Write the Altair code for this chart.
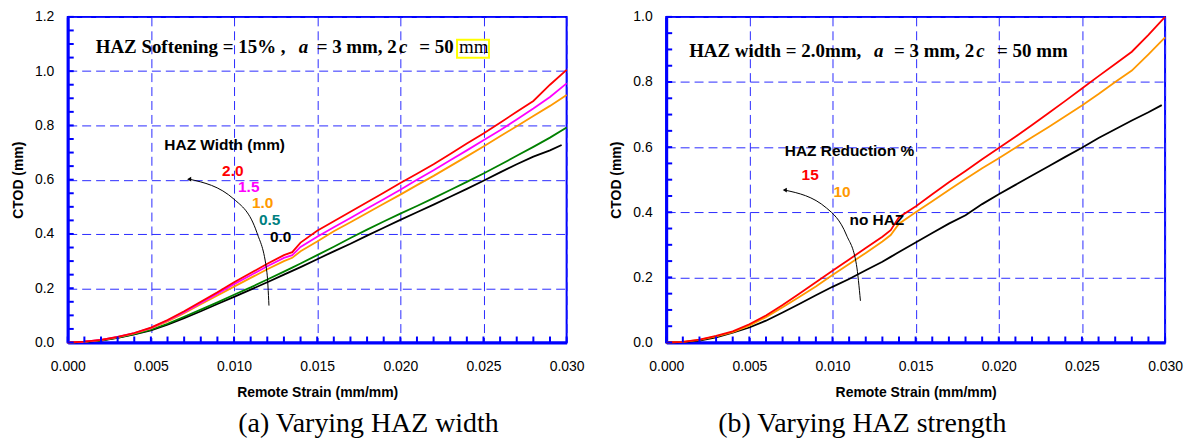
import altair as alt
import pandas as pd

# ---------------- data ----------------
X_GRID = [0.000, 0.001, 0.002, 0.003, 0.004, 0.005, 0.006, 0.007, 0.008, 0.009,
          0.010, 0.011, 0.012, 0.013, 0.0135, 0.014, 0.015, 0.016, 0.017, 0.018,
          0.019, 0.020, 0.021, 0.022, 0.023, 0.024, 0.025, 0.026, 0.027, 0.028,
          0.029, 0.030]
X_GRID_BLACK_A = X_GRID[:-1] + [0.0297]
X_GRID_BLACK_B = X_GRID[:-1] + [0.0298]

# (a) varying HAZ width
A_RED = [0, .003, .010, .021, .035, .055, .083, .115, .150, .185, .222, .256, .290, .322,
         .333, .368, .412, .447, .482, .517, .552, .588, .622, .657, .695, .733, .770,
         .810, .850, .890, .950, 1.005]
A_MAGENTA = [0, .003, .010, .021, .035, .054, .081, .112, .146, .180, .215, .248, .281, .312,
             .322, .352, .390, .425, .459, .494, .528, .563, .600, .635, .672, .708, .745,
             .782, .822, .862, .905, .955]
A_ORANGE = [0, .003, .009, .020, .034, .052, .078, .108, .141, .173, .206, .238, .270, .300,
            .312, .336, .372, .410, .443, .477, .511, .545, .580, .614, .650, .686, .722,
            .760, .797, .835, .872, .912]
A_GREEN = [0, .002, .008, .018, .031, .047, .069, .095, .121, .148, .176, .203, .232, .261,
           .276, .291, .322, .353, .385, .416, .446, .475, .503, .532, .562, .592, .623,
           .655, .688, .721, .755, .792]
A_BLACK = [0, .002, .007, .017, .030, .045, .066, .090, .115, .142, .168, .195, .222, .250,
           .264, .278, .307, .336, .364, .394, .423, .452, .480, .508, .537, .566, .596,
           .627, .657, .685, .708, .728]

# (b) varying HAZ strength
B_RED = [0, .002, .009, .020, .034, .056, .083, .115, .150, .185, .220, .255, .290, .325,
         .345, .385, .418, .455, .492, .527, .563, .597, .632, .668, .705, .742, .780,
         .818, .855, .893, .945, 1.000]
B_ORANGE = [0, .002, .008, .019, .032, .052, .078, .108, .140, .172, .207, .241, .275, .310,
            .330, .365, .400, .434, .468, .502, .535, .566, .598, .630, .662, .695, .728,
            .763, .800, .835, .885, .937]
B_BLACK = [0, .001, .006, .016, .030, .046, .067, .092, .118, .145, .171, .195, .222, .248,
           .263, .278, .307, .336, .365, .391, .425, .455, .484, .513, .541, .570, .598,
           .628, .655, .682, .707, .729]

A_COLORS = ["#000000", "#008000", "#ff9900", "#ff00ff", "#ff0000"]   # 0.0, 0.5, 1.0, 1.5, 2.0
B_COLORS = ["#000000", "#ff9900", "#ff0000"]                         # no HAZ, 10, 15

X_MAJOR = [0.000, 0.005, 0.010, 0.015, 0.020, 0.025, 0.030]
X_MINOR = [round(0.001 * i, 3) for i in range(31)]
A_Y_MAJOR = [0.0, 0.2, 0.4, 0.6, 0.8, 1.0, 1.2]
A_Y_MINOR = [round(0.05 * i, 2) for i in range(25)]
B_Y_MAJOR = [0.0, 0.2, 0.4, 0.6, 0.8, 1.0]
B_Y_MINOR = [round(0.05 * i, 2) for i in range(21)]

# annotation labels (x, y in data units)
A_LABELS = pd.DataFrame({
    "x": [0.00581, 0.00928, 0.01024, 0.01108, 0.01150, 0.01216],
    "y": [0.708, 0.613, 0.554, 0.495, 0.433, 0.371],
    "t": ["HAZ Width (mm)", "2.0", "1.5", "1.0", "0.5", "0.0"],
    "c": ["#000000", "#ff0000", "#ff00ff", "#ff9900", "#008080", "#000000"],
})
B_LABELS = pd.DataFrame({
    "x": [0.00713, 0.00814, 0.01006, 0.01102],
    "y": [0.572, 0.499, 0.447, 0.361],
    "t": ["HAZ Reduction %", "15", "10", "no HAZ"],
    "c": ["#000000", "#ff0000", "#ff9900", "#000000"],
})
A_ARC_X = [0.00730, 0.01000, 0.01138, 0.01198, 0.01210]
A_ARC_Y = [0.602, 0.528, 0.404, 0.257, 0.136]
B_ARC_X = [0.00713, 0.00964, 0.01084, 0.01144, 0.01168]
B_ARC_Y = [0.468, 0.413, 0.330, 0.239, 0.128]

# title pieces: (x, text, style)
A_TITLE_Y = 1.068
A_TITLE = [(0.00168, "HAZ Softening = 15% ,", "b"), (0.01389, "a", "bi"),
           (0.01497, "= 3 mm, 2", "b"), (0.01992, "c", "bi"),
           (0.02114, "= 50", "b"), (0.02353, "mm", "n")]
A_BOX = (0.02341, 0.02533, 1.0495, 1.1156)
B_TITLE_Y = 0.878
B_TITLE = [(0.00138, "HAZ width = 2.0mm,", "b"), (0.01250, "a", "bi"),
           (0.01370, "= 3 mm, 2", "b"), (0.01865, "c", "bi"),
           (0.01990, "= 50 mm", "b")]

W, H = 501, 327
TICK_LEN = 6
BLUE = "#0000ff"
SANS = "Liberation Sans"
SERIF = "Liberation Serif"


def panel(series, ymax, ymajor, yminor, labels, arc_x, arc_y,
          title_y, title, caption, caption_x, box=None):
    X = alt.X("x:Q", scale=alt.Scale(domain=[0, 0.03], nice=False, zero=False),
              axis=alt.Axis(values=X_MAJOR, format=".3f", title="Remote Strain (mm/mm)",
                            grid=True, gridColor="#2a2aff", gridDash=[9, 5], gridWidth=1,
                            domainColor=BLUE, domainWidth=3, ticks=False, tickSize=0,
                            labelFont=SANS, labelFontSize=14, labelColor="black",
                            labelPadding=17, labelFlush=False, labelOverlap=False,
                            titleFont=SANS, titleFontSize=14, titleFontWeight="bold",
                            titleColor="black", titlePadding=12))
    Y = alt.Y("y:Q", scale=alt.Scale(domain=[0, ymax], nice=False, zero=True),
              axis=alt.Axis(values=ymajor, format=".1f", title="CTOD (mm)",
                            grid=True, gridColor="#2a2aff", gridDash=[9, 5], gridWidth=1,
                            domainColor=BLUE, domainWidth=3, ticks=False, tickSize=0,
                            labelFont=SANS, labelFontSize=14, labelColor="black",
                            labelPadding=14, labelFlush=False, labelOverlap=False,
                            titleFont=SANS, titleFontSize=14, titleFontWeight="bold",
                            titleColor="black", titlePadding=9))

    layers = []
    for xs, ys, col in series:
        sdf = pd.DataFrame({"x": xs, "y": ys})
        layers.append(alt.Chart(sdf).mark_line(strokeWidth=1.8, color=col).encode(x=X, y=Y))

    # inward minor ticks along the bottom and left axes
    xt_df = pd.DataFrame({"x": X_MINOR, "y": [0.0] * len(X_MINOR),
                          "y2": [ymax * TICK_LEN / H] * len(X_MINOR)})
    yt_df = pd.DataFrame({"y": yminor, "x": [0.0] * len(yminor),
                          "x2": [0.03 * TICK_LEN / W] * len(yminor)})
    xt = alt.Chart(xt_df).mark_rule(color=BLUE, strokeWidth=2).encode(x=X, y=Y, y2="y2:Q")
    yt = alt.Chart(yt_df).mark_rule(color=BLUE, strokeWidth=2).encode(x=X, x2="x2:Q", y=Y)

    arc_df = pd.DataFrame({"x": arc_x, "y": arc_y, "o": list(range(len(arc_x)))})
    arc = alt.Chart(arc_df).mark_line(color="black", strokeWidth=1,
                                      interpolate="monotone").encode(x=X, y=Y, order="o:Q")
    head = alt.Chart(arc_df.iloc[:1]).mark_point(shape="triangle-left", filled=True,
                                                 color="black", size=22, opacity=1).encode(x=X, y=Y)
    lab = alt.Chart(labels).mark_text(align="left", baseline="alphabetic", font=SANS,
                                      fontWeight="bold", fontSize=15.5).encode(
        x=X, y=Y, text="t:N", color=alt.Color("c:N", scale=None))
    layers += [xt, yt, arc, head, lab]

    styles = {"b": dict(fontWeight="bold", fontStyle="normal"),
              "bi": dict(fontWeight="bold", fontStyle="italic"),
              "n": dict(fontWeight="normal", fontStyle="normal")}
    for st, kw in styles.items():
        rows = [(x, t) for (x, t, s) in title if s == st]
        if not rows:
            continue
        tdf = pd.DataFrame({"x": [r[0] for r in rows], "y": [title_y] * len(rows),
                            "t": [r[1] for r in rows]})
        layers.append(alt.Chart(tdf).mark_text(align="left", baseline="alphabetic",
                                               font=SERIF, fontSize=19, color="black",
                                               **kw).encode(x=X, y=Y, text="t:N"))
    if box is not None:
        bdf = pd.DataFrame({"x": [box[0]], "x2": [box[1]], "y": [box[2]], "y2": [box[3]]})
        layers.append(alt.Chart(bdf).mark_rect(fillOpacity=0, stroke="#ffff00",
                                               strokeWidth=2).encode(
            x=X, x2="x2:Q", y=Y, y2="y2:Q"))
    cap = alt.Chart(pd.DataFrame({"t": [caption]})).mark_text(
        align="center", baseline="alphabetic", font=SERIF, fontSize=28, color="black"
    ).encode(x=alt.value(caption_x), y=alt.value(417), text="t:N")
    layers.append(cap)
    return alt.layer(*layers).properties(width=W, height=H)


series_a = [(X_GRID_BLACK_A, A_BLACK, A_COLORS[0]), (X_GRID, A_GREEN, A_COLORS[1]),
            (X_GRID, A_ORANGE, A_COLORS[2]), (X_GRID, A_MAGENTA, A_COLORS[3]),
            (X_GRID, A_RED, A_COLORS[4])]
series_b = [(X_GRID_BLACK_B, B_BLACK, B_COLORS[0]), (X_GRID, B_ORANGE, B_COLORS[1]),
            (X_GRID, B_RED, B_COLORS[2])]

left = panel(series_a, 1.2, A_Y_MAJOR, A_Y_MINOR, A_LABELS,
             A_ARC_X, A_ARC_Y, A_TITLE_Y, A_TITLE, "(a) Varying HAZ width", 302, box=A_BOX)
right = panel(series_b, 1.0, B_Y_MAJOR, B_Y_MINOR, B_LABELS,
              B_ARC_X, B_ARC_Y, B_TITLE_Y, B_TITLE, "(b) Varying HAZ strength", 197)

chart = alt.hconcat(left, right, spacing=100, bounds="flush").properties(
    padding={"left": 2, "top": 0, "right": 0, "bottom": 0}, background="white"
).configure_view(stroke=BLUE, strokeWidth=2)

chart.save("out.html", embed_options={"renderer": "svg", "actions": False})
